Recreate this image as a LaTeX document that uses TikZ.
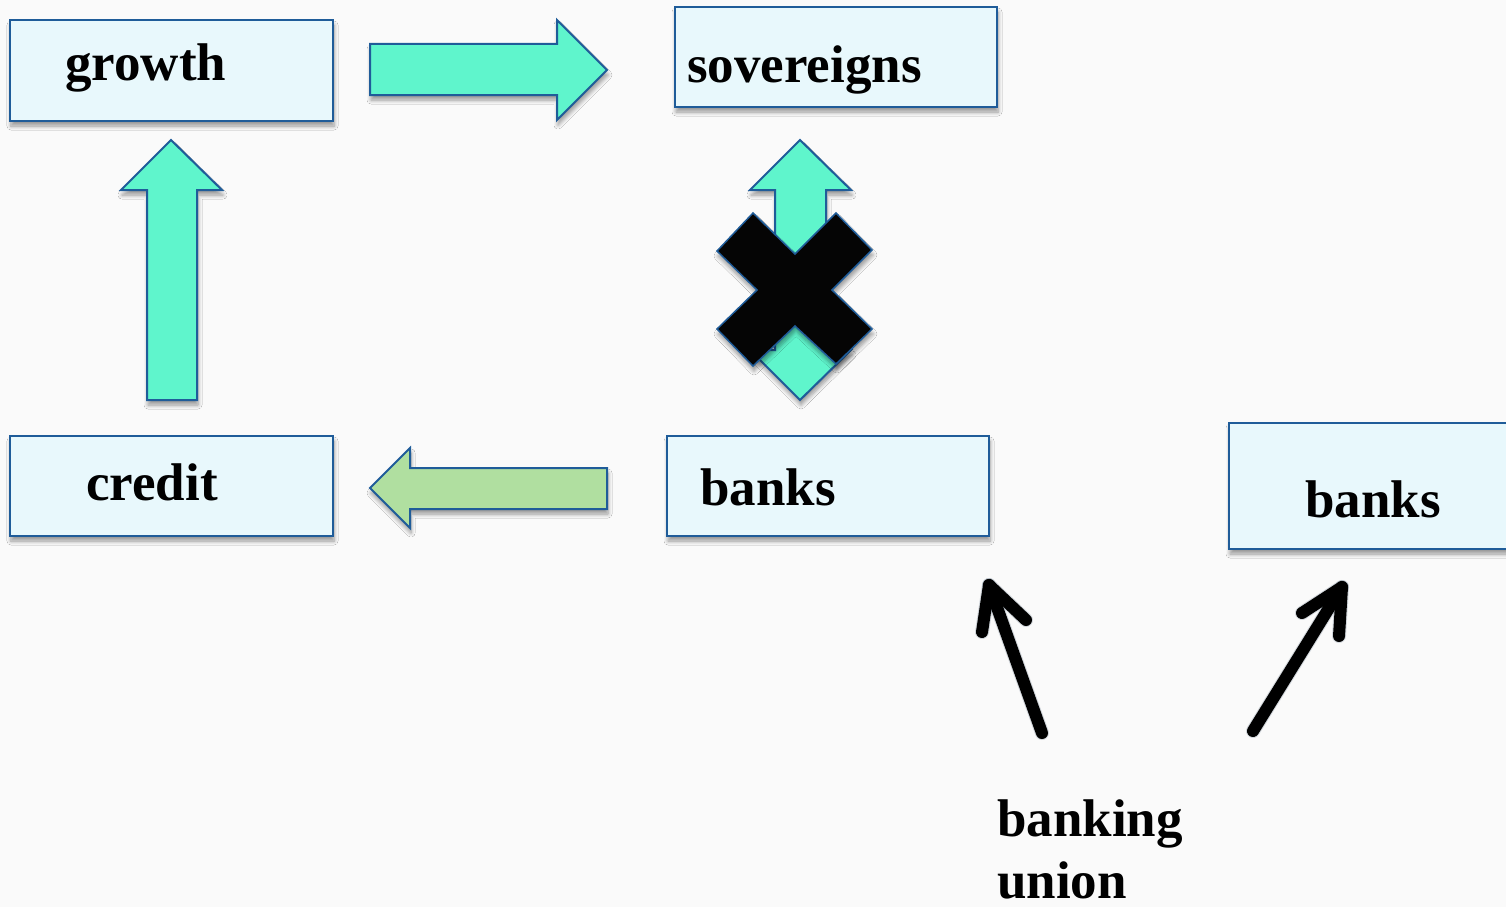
\documentclass[tikz,border=0pt]{standalone}
\usepackage{fontspec}
\setmainfont{Liberation Serif}
\usetikzlibrary{shadows.blur}

\definecolor{pagebg}{HTML}{FAFAFA}
\definecolor{boxfill}{HTML}{E8F8FC}
\definecolor{boxline}{HTML}{1F5C99}
\definecolor{arrowteal}{HTML}{5FF5CC}
\definecolor{arrowgreen}{HTML}{B0DFA0}
\definecolor{crossfill}{HTML}{050505}
\definecolor{shadowblue}{HTML}{1A3550}

\tikzset{
  softshadow/.style={blur shadow={shadow xshift=1pt, shadow yshift=-5pt,
      shadow blur steps=6, shadow blur radius=4pt, shadow opacity=40}},
  box/.style={rectangle, draw=boxline, line width=2pt, fill=boxfill,
      inner sep=0pt, softshadow},
  word/.style={font=\bfseries\fontsize{53}{62}\selectfont, anchor=base west,
      inner sep=0pt, align=left},
  blockarrow/.style={draw=boxline, line width=2pt, line join=miter, softshadow},
  pointer/.style={draw=black, line width=12pt, line cap=round, line join=round},
  pointershadow/.style={draw=shadowblue, opacity=0.18, line width=14pt,
      line cap=round, line join=round},
}

\begin{document}
\begin{tikzpicture}[x=1pt, y=-1pt]
  % page
  \fill[pagebg] (0,0) rectangle (1506,907);
  \useasboundingbox (0,0) rectangle (1506,907);

  % boxes
  \node[box, minimum width=323, minimum height=101] (growth) at (171.5,70.5) {};
  \node[box, minimum width=322, minimum height=100] (sov) at (836,57) {};
  \node[box, minimum width=323, minimum height=100] (credit) at (171.5,486) {};
  \node[box, minimum width=322, minimum height=100] (banks) at (828,486) {};
  \node[box, minimum width=301, minimum height=126] (banksB) at (1379.5,486) {};

  % box texts
  \node[word] (tgrowth) at (65,80) {growth};
  \node[word] (tsov) at (687,82) {sovereigns};
  \node[word] (tcredit) at (86,500) {credit};
  \node[word] (tbanks) at (700,505) {banks};
  \node[word] (tbanksB) at (1305,517) {banks};
  % base anchor of a two-line node sits on the last line
  \node[word] (union) at (997,898) {banking\\union};

  % growth -> sovereigns
  \filldraw[blockarrow, fill=arrowteal]
    (370,44) -- (557,44) -- (557,20) -- (607,70) -- (557,120) -- (557,95)
    -- (370,95) -- cycle;
  % credit -> growth
  \filldraw[blockarrow, fill=arrowteal]
    (147,400) -- (147,190) -- (121,190) -- (171,140) -- (222,190)
    -- (197,190) -- (197,400) -- cycle;
  % banks <-> sovereigns
  \filldraw[blockarrow, fill=arrowteal]
    (775,190) -- (750,190) -- (800,140) -- (851,190) -- (826,190)
    -- (826,350) -- (851,350) -- (800,400) -- (750,350) -- (775,350) -- cycle;
  % banks -> credit
  \filldraw[blockarrow, fill=arrowgreen]
    (607,468) -- (410,468) -- (410,448) -- (370,488) -- (410,528)
    -- (410,509) -- (607,509) -- cycle;

  % cross over the link
  \filldraw[draw=boxline, line width=1.5pt, fill=crossfill, line join=miter, softshadow]
    (717,251) -- (753,213) -- (795,254) -- (836,213) -- (872,250) -- (832,290)
    -- (872,329) -- (836,364) -- (795,326) -- (753,366) -- (717,329)
    -- (757,290) -- cycle;

  % pointers from the banking union label
  \coordinate (pA0) at (1042,733);
  \coordinate (pA1) at (989,585);
  \coordinate (pAl) at (982,632);
  \coordinate (pAr) at (1026,620);
  \coordinate (pB0) at (1253,731);
  \coordinate (pB1) at (1342,587);
  \coordinate (pBl) at (1302,613);
  \coordinate (pBr) at (1339,636);

  \begin{scope}[shift={(2,5)}]
    \draw[pointershadow] (pA0) -- (pA1);
    \draw[pointershadow] (pAl) -- (pA1) -- (pAr);
    \draw[pointershadow] (pB0) -- (pB1);
    \draw[pointershadow] (pBl) -- (pB1) -- (pBr);
  \end{scope}
  \draw[pointer] (pA0) -- (pA1);
  \draw[pointer] (pAl) -- (pA1) -- (pAr);
  \draw[pointer] (pB0) -- (pB1);
  \draw[pointer] (pBl) -- (pB1) -- (pBr);
\end{tikzpicture}
\end{document}
